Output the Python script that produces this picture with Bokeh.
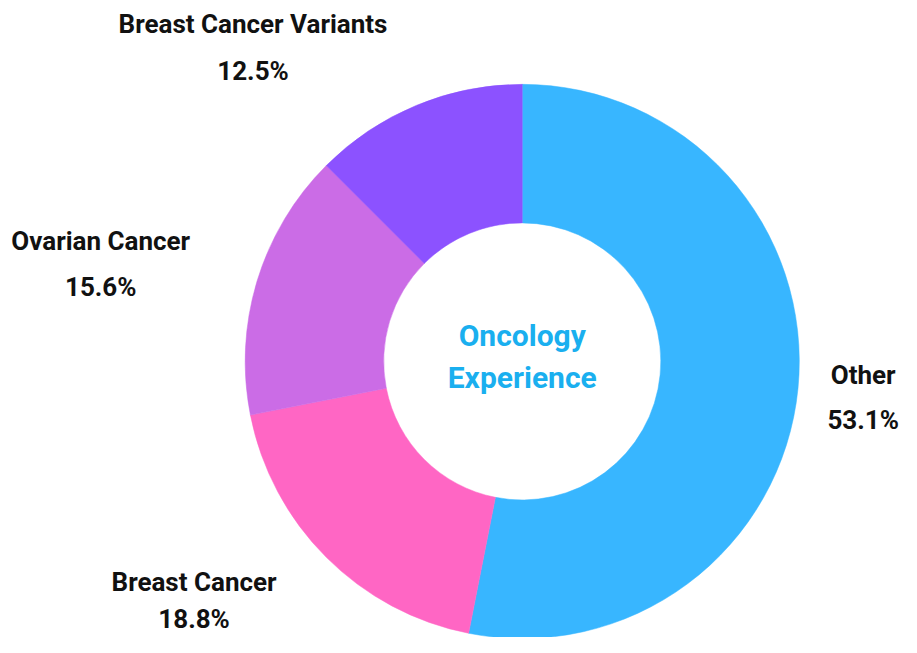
from bokeh.plotting import figure
from bokeh.models import Range1d, ColumnDataSource
from bokeh.core.properties import value
from bokeh.embed import file_html
from bokeh.resources import INLINE
import math

categories = ["Other", "Breast Cancer", "Ovarian Cancer", "Breast Cancer Variants"]
shares = [53.1, 18.8, 15.6, 12.5]
colors = ["#38B6FF", "#FF66C4", "#CB6CE6", "#8C52FF"]
center_title = ["Oncology", "Experience"]

# reference canvas 917x653 squeezed into the 901x637 available area
RW, RH = 917, 653
W, H = 901, 637
p = figure(width=W, height=H, output_backend="svg", toolbar_location=None,
           x_range=Range1d(0, RW), y_range=Range1d(0, RH),
           min_border=0, outline_line_color=None)
p.axis.visible = False
p.grid.visible = False
p.background_fill_color = "white"
p.border_fill_color = "white"

# geometry (reference image coords -> data: y = RH - img_y)
cx, cy = 531, RH - 370
r_out, r_in = 282, 141

total = sum(shares)
starts, ends = [], []
a = math.pi / 2
for s in shares:
    starts.append(a)
    a = a - s / total * 2 * math.pi
    ends.append(a)

src = ColumnDataSource(dict(start=starts, end=ends, color=colors, cat=categories))
p.annular_wedge(x=cx, y=cy, inner_radius=r_in, outer_radius=r_out,
                start_angle="start", end_angle="end", direction="clock",
                fill_color="color", line_color="color", line_width=0.5, source=src)

# label positions (reference image coordinates of name / percentage)
label_pos = {
    "Other": (878, 384, 430),
    "Breast Cancer": (197, 596, 634),
    "Ovarian Cancer": (102, 247, 294),
    "Breast Cancer Variants": (257, 24, 72),
}
lx, ly, lt = [], [], []
for c, s in zip(categories, shares):
    x, y1, y2 = label_pos[c]
    lx += [x, x]
    ly += [RH - y1, RH - y2]
    lt += [c, f"{s:.1f}%"]
p.text(x=lx, y=ly, text=lt, text_align="center", text_baseline="middle",
       text_font=value("Roboto"), text_font_style="bold",
       text_font_size="26px", text_color="#111111")

p.text(x=[cx, cx], y=[RH - 343, RH - 386], text=center_title,
       text_align="center", text_baseline="middle",
       text_font=value("Roboto"), text_font_style="bold",
       text_font_size="30px", text_color="#1AAFEF")

open("out.html", "w").write(file_html(p, INLINE))
